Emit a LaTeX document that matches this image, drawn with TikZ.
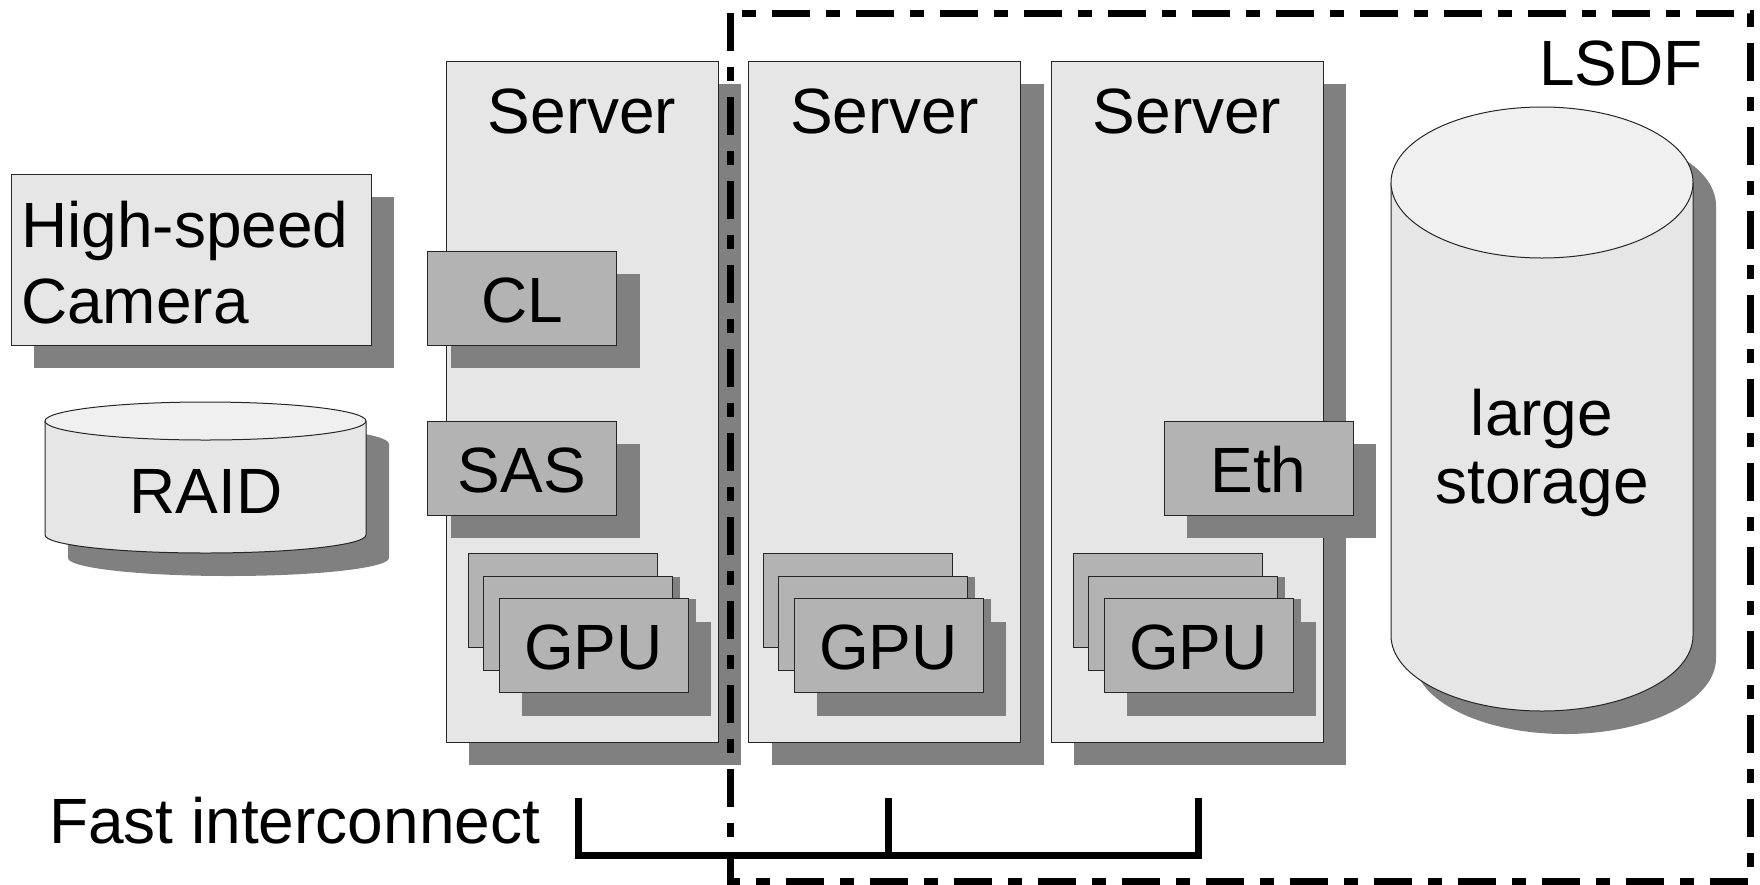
\documentclass[tikz,border=0pt]{standalone}
\usepackage{fontspec}
\setmainfont{Liberation Sans}
\usetikzlibrary{shadows}

\definecolor{boxgray}{HTML}{E6E6E6}
\definecolor{topgray}{HTML}{F0F0F0}
\definecolor{cardgray}{HTML}{B3B3B3}
\definecolor{shadowgray}{HTML}{808080}

\tikzset{
  bigtext/.style={font=\fontsize{64}{76}\selectfont, inner sep=0pt},
  shadowed/.style={drop shadow={shadow xshift=23pt, shadow yshift=-23pt, fill=shadowgray, opacity=1}},
  outline/.style={draw=black!85, line width=1pt},
  server/.style={outline, fill=boxgray, minimum width=272pt, minimum height=681pt, inner sep=0pt, shadowed},
  card/.style={outline, fill=cardgray, minimum width=189pt, minimum height=94pt, inner sep=0pt, shadowed,
    font=\fontsize{64}{76}\selectfont, text height=48pt, text depth=0pt},
  lsdfline/.style={line width=7pt, dash pattern=on 38pt off 16pt on 14pt off 16pt},
  wire/.style={line width=7pt}
}

\begin{document}
\begin{tikzpicture}[x=1pt, y=-1pt]
  \useasboundingbox (0,0) rectangle (1760,884);

  % Camera
  \node (camera) at (191,259.5) [outline, fill=boxgray, minimum width=360pt, minimum height=171pt, shadowed] {};
  \node (camtext) at (21,262.5) [bigtext, anchor=west, align=left] {High-speed\\Camera};

  % RAID
  \begin{scope}[shift={(23,23)}]
    \fill[shadowgray] (45,421) -- (45,535) arc[start angle=180, end angle=0, x radius=160.5, y radius=18]
      -- (366,421) arc[start angle=0, end angle=-180, x radius=160.5, y radius=19] -- cycle;
  \end{scope}
  \draw[outline, fill=boxgray] (45,421) -- (45,535) arc[start angle=180, end angle=0, x radius=160.5, y radius=18] -- (366,421);
  \draw[outline, fill=topgray] (205.5,421) ellipse [x radius=160.5, y radius=19];
  \node (raid) at (206,513) [bigtext, anchor=base] {RAID};

  % Servers
  \foreach \n/\x in {1/582, 2/884.5, 3/1187} {
    \node (server\n) at (\x,401.5) [server] {};
    \node (label\n) at (\x,133) [bigtext, anchor=base] {Server};
  }

  % Interface cards
  \node (cl) at (522,298) [card] {CL};
  \node (sas) at (522,468) [card] {SAS};
  \node (eth) at (1258.5,468) [card] {Eth};

  % GPU stacks
  \foreach \n/\x in {1/593.5, 2/888.5, 3/1198.5} {
    \node (gpu\n c) at (\x-31,600.5) [card] {};
    \node (gpu\n b) at (\x-15.5,623) [card] {};
    \node (gpu\n a) at (\x,645.5) [card] {GPU};
  }

  % large storage
  \begin{scope}[shift={(23,23)}]
    \fill[shadowgray] (1391,182.5) -- (1391,635.5) arc[start angle=180, end angle=0, x radius=151, y radius=75.5]
      -- (1693,182.5) arc[start angle=0, end angle=-180, x radius=151, y radius=75.5] -- cycle;
  \end{scope}
  \draw[outline, fill=boxgray] (1391,182.5) -- (1391,635.5) arc[start angle=180, end angle=0, x radius=151, y radius=75.5] -- (1693,182.5);
  \draw[outline, fill=topgray] (1542,182.5) ellipse [x radius=151, y radius=75.5];
  \node (storage) at (1542,453) [font=\fontsize{64}{68}\selectfont, inner sep=0pt, align=center] {large\\storage};

  % Fast interconnect
  \node (fast) at (49,843) [bigtext, anchor=base west] {Fast interconnect};
  \coordinate (tap1) at (578.5,798);
  \coordinate (tap2) at (888,798);
  \coordinate (tap3) at (1198,798);
  \coordinate (busl) at (578.5,855);
  \coordinate (busr) at (1198,855);
  \draw[wire] (tap1) -- (busl) -- (busr) -- (tap3);
  \draw[wire] (tap2) -- (tap2 |- busl);

  % LSDF
  \draw[lsdfline] (730,13) rectangle (1750,881);
  \node (lsdf) at (1539,85) [bigtext, anchor=base west] {LSDF};

\end{tikzpicture}
\end{document}
